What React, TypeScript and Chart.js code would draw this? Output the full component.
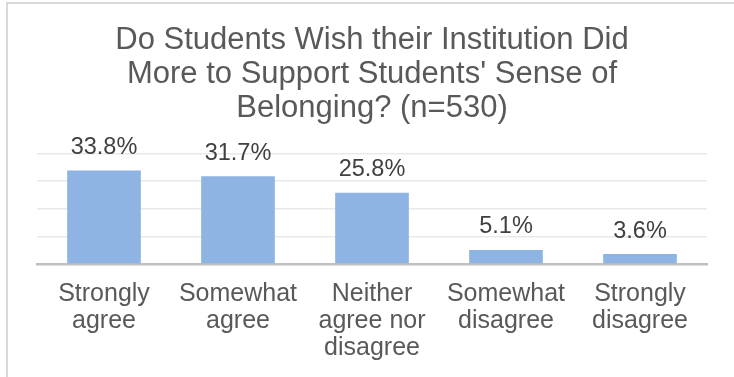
import React, { useEffect, useRef } from "react";
import { Chart, registerables } from "chart.js";

Chart.register(...registerables);

const titleLines = [
  "Do Students Wish their Institution Did",
  "More to Support Students' Sense of",
  "Belonging? (n=530)",
];
const categories: string[][] = [
  ["Strongly", "agree"],
  ["Somewhat", "agree"],
  ["Neither", "agree nor", "disagree"],
  ["Somewhat", "disagree"],
  ["Strongly", "disagree"],
];
const percentages = [33.8, 31.7, 25.8, 5.1, 3.6];
const yTickValues = [0, 10, 20, 30, 40];

const FONT = "'Liberation Sans', Arial, sans-serif";

const dataLabelPlugin = {
  id: "dataLabels",
  afterDatasetsDraw(chart: any) {
    const ctx = chart.ctx;
    const meta = chart.getDatasetMeta(0);
    ctx.save();
    ctx.font = `23.5px ${FONT}`;
    ctx.fillStyle = "#404040";
    ctx.textAlign = "center";
    ctx.textBaseline = "alphabetic";
    meta.data.forEach((bar: any, i: number) => {
      const v = chart.data.datasets[0].data[i] as number;
      ctx.fillText(v.toFixed(1) + "%", bar.x, bar.y - 16.5);
    });
    ctx.restore();
  },
};

export default function App() {
  const canvasRef = useRef<HTMLCanvasElement | null>(null);

  useEffect(() => {
    if (!canvasRef.current) return;
    const chart = new Chart(canvasRef.current, {
      type: "bar",
      data: {
        labels: categories,
        datasets: [
          {
            data: percentages,
            backgroundColor: "rgb(141,180,226)",
            borderWidth: 0,
            barPercentage: 0.55,
            categoryPercentage: 1,
          },
        ],
      },
      options: {
        animation: false,
        responsive: false,
        maintainAspectRatio: false,
        layout: { padding: { left: 37, right: 27, top: 24, bottom: 16 } },
        plugins: {
          legend: { display: false },
          tooltip: { enabled: false },
          title: {
            display: true,
            text: titleLines,
            color: "#595959",
            font: { family: FONT, size: 31, weight: "normal", lineHeight: 1.09 },
            padding: { top: 0, bottom: 28 },
          },
        },
        scales: {
          x: {
            grid: { display: false, drawTicks: false },
            border: { display: true, color: "#bfbfbf", width: 2.5 },
            ticks: {
              color: "#595959",
              font: { family: FONT, size: 25, lineHeight: 1.08 },
              padding: 17,
              maxRotation: 0,
              autoSkip: false,
            },
          },
          y: {
            min: yTickValues[0],
            max: yTickValues[yTickValues.length - 1],
            afterBuildTicks: (axis: any) => {
              axis.ticks = yTickValues.map((v) => ({ value: v }));
            },
            grid: { color: "#e9e9e9", lineWidth: 1.5, drawTicks: false },
            border: { display: false },
            ticks: { display: false },
          },
        },
      },
      plugins: [dataLabelPlugin],
    });
    return () => chart.destroy();
  }, []);

  return (
    <div
      style={{
        position: "fixed",
        left: 0,
        top: 0,
        width: 734,
        height: 377,
        background: "#ffffff",
        overflow: "hidden",
      }}
    >
      <div
        style={{
          position: "absolute",
          left: 6,
          top: 2,
          width: 760,
          height: 400,
          borderLeft: "2px solid #d9d9d9",
          borderTop: "2px solid #d9d9d9",
        }}
      />
      <canvas
        ref={canvasRef}
        width={734}
        height={395}
        style={{ position: "absolute", left: 0, top: 0, width: 734, height: 395 }}
      />
    </div>
  );
}
